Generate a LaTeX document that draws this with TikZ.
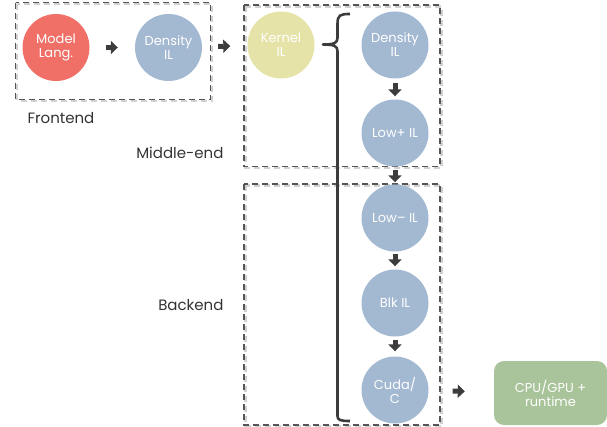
\documentclass[tikz,border=0pt]{standalone}
\usepackage{fontspec}
\setmainfont{Poppins}
\usetikzlibrary{arrows.meta}

\definecolor{langred}{RGB}{240,112,104}
\definecolor{ilblue}{RGB}{163,184,209}
\definecolor{kernyellow}{RGB}{229,227,168}
\definecolor{rtgreen}{RGB}{169,196,154}
\definecolor{arrowgray}{RGB}{60,60,60}
\definecolor{boxgray}{RGB}{85,85,85}

\tikzset{
  stage/.style={circle, minimum size=67pt, inner sep=0pt, text=white, align=center, font=\fontsize{13}{14}\selectfont},
  flow/.style={draw=arrowgray, line width=5pt, -{Triangle[length=7pt,width=13pt]}},
  phase/.style={draw=boxgray, line width=1.3pt, dash pattern=on 6pt off 4pt},
  phaseshadow/.style={draw=black!18, line width=2.5pt, dash pattern=on 6pt off 4pt},
  phaselabel/.style={text=black!80, font=\fontsize{15}{16}\selectfont}
}

\begin{document}
\begin{tikzpicture}[x=1pt,y=1pt,yscale=-1,xscale=1]
\useasboundingbox (0,0) rectangle (607,427);

% Dashed boxes
\draw [phaseshadow] (17.2,4.2) rectangle (212.2,100.8);
\draw [phaseshadow] (245.5,6.5) rectangle (441.5,168.2);
\draw [phaseshadow] (245.5,185.5) rectangle (441.5,426.5);
\draw [phase] (15.7,2.7) rectangle (210.7,99.3);
\draw [phase] (244,5) rectangle (440,166.7);
\draw [phase] (244,184) rectangle (440,425);

% Circles
\node [stage, fill=langred] (lang) at (56,47.5) {Model\\Lang.};
\node [stage, fill=ilblue] (dens1) at (168.5,47.5) {Density\\IL};
\node [stage, fill=kernyellow] (kern) at (281,45) {Kernel\\IL};
\node [stage, fill=ilblue] (dens2) at (395,45) {Density\\IL};
\node [stage, fill=ilblue] (lowp) at (395,133) {Low+ IL};
\node [stage, fill=ilblue] (lowm) at (395,218) {Low– IL};
\node [stage, fill=ilblue] (blk) at (395,303) {Blk IL};
\node [stage, fill=ilblue] (cuda) at (395,390) {Cuda/\\C};

% Runtime box
\node [fill=rtgreen, rounded corners=10pt, minimum width=113pt, minimum height=64pt, text=white, align=center, font=\fontsize{13}{14}\selectfont] (rt) at (550.5,393) {CPU/GPU +\\runtime};

% Brace
\draw [arrowgray, line width=2.6pt, line join=round]
  (350,14) .. controls (340,14) and (337.5,15) .. (337.5,24) -- (337.5,38)
  .. controls (337.5,43) and (334,44.5) .. (323,44.5)
  .. controls (334,44.5) and (337.5,46) .. (337.5,51) -- (337.5,416)
  .. controls (337.5,420) and (340,421) .. (350,421);

% Arrows
\draw [flow, shorten <=16pt, shorten >=17pt] (lang) -- (dens1);
\draw [flow, shorten <=16pt, shorten >=17pt] (dens1) -- (kern);
\draw [flow, shorten <=4pt, shorten >=3pt] (dens2) -- (lowp);
\draw [flow, shorten <=3pt, shorten >=2pt] (lowp) -- (lowm);
\draw [flow, shorten <=2pt, shorten >=3pt] (lowm) -- (blk);
\draw [flow, shorten <=3pt, shorten >=5pt] (blk) -- (cuda);
\draw [flow, shorten <=24pt, shorten >=29pt] (cuda) -- (rt);

% Text Node
\node [phaselabel, anchor=west] (fe) at (24,118) {Frontend};
% Text Node
\node [phaselabel, anchor=east] (me) at (227,153) {Middle-end};
% Text Node
\node [phaselabel, anchor=east] (be) at (227,305) {Backend};

\end{tikzpicture}
\end{document}
